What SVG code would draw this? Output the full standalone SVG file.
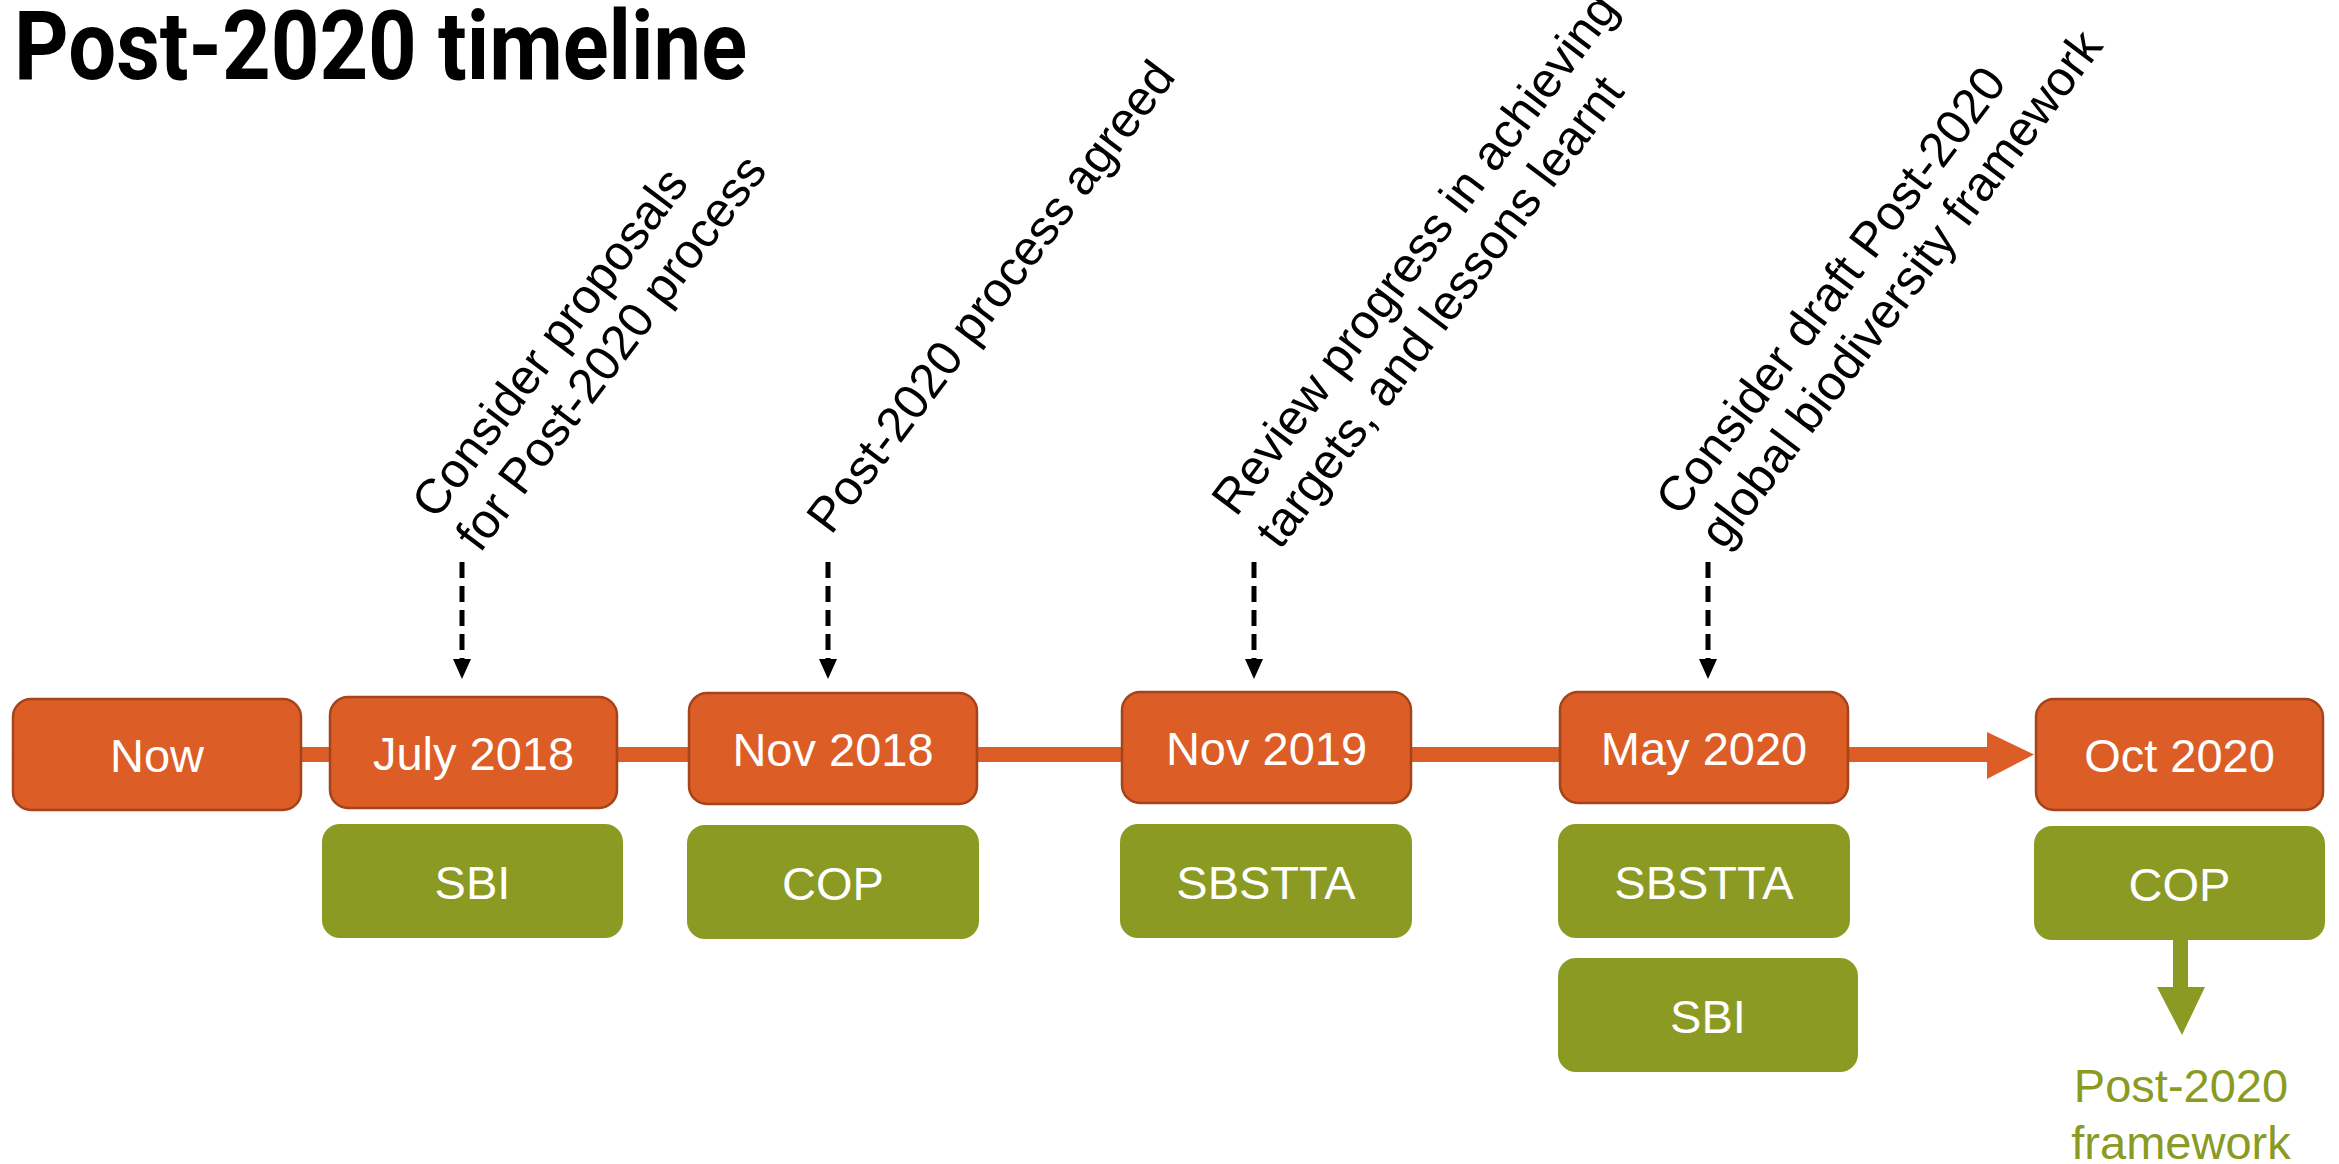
<svg xmlns="http://www.w3.org/2000/svg" width="2339" height="1164" viewBox="0 0 2339 1164">
  <style>
    .ob { fill: #DC5D26; stroke: #A5431B; stroke-width: 2.5; }
    .gb { fill: #8A9A22; }
    .bt { font-family: "Liberation Sans", Arial, sans-serif; font-size: 47px; fill: #FFFFFF; text-anchor: middle; }
    .rt { font-family: "Liberation Sans", Arial, sans-serif; font-size: 49px; fill: #000000; }
    .dash { stroke: #000000; stroke-width: 5; stroke-dasharray: 16 8; fill: none; }
  </style>
  <rect width="2339" height="1164" fill="#FFFFFF"/>
  <text id="title" x="14" y="79" font-family="Roboto, 'Liberation Sans', sans-serif" font-weight="700" font-size="96" textLength="733" lengthAdjust="spacingAndGlyphs" fill="#000000">Post-2020 timeline</text>

  <g id="connectors">
    <rect x="300" y="747" width="1689" height="15" fill="#DC5D26"/>
    <polygon points="1987,732 2034,754.5 1987,779" fill="#DC5D26"/>
    <line class="dash" x1="462" y1="562" x2="462" y2="660"/>
    <polygon points="453,659 471,659 462,679" fill="#000000"/>
    <line class="dash" x1="828" y1="562" x2="828" y2="660"/>
    <polygon points="819,659 837,659 828,679" fill="#000000"/>
    <line class="dash" x1="1254" y1="562" x2="1254" y2="660"/>
    <polygon points="1245,659 1263,659 1254,679" fill="#000000"/>
    <line class="dash" x1="1708" y1="562" x2="1708" y2="660"/>
    <polygon points="1699,659 1717,659 1708,679" fill="#000000"/>
    <polygon points="2173,940 2188,940 2188,987 2205,987 2182,1035 2157,987 2173,987" fill="#8A9A22"/>
  </g>

  <g id="now"><rect class="ob" x="13" y="699" width="288" height="111" rx="18"/><text class="bt" x="157" y="772">Now</text></g>
  <g id="jul2018"><rect class="ob" x="330" y="697" width="287" height="111" rx="18"/><text class="bt" x="473.5" y="770">July 2018</text></g>
  <g id="nov2018"><rect class="ob" x="689" y="693" width="288" height="111" rx="18"/><text class="bt" x="833" y="766">Nov 2018</text></g>
  <g id="nov2019"><rect class="ob" x="1122" y="692" width="289" height="111" rx="18"/><text class="bt" x="1266.5" y="765">Nov 2019</text></g>
  <g id="may2020"><rect class="ob" x="1560" y="692" width="288" height="111" rx="18"/><text class="bt" x="1704" y="765">May 2020</text></g>
  <g id="oct2020"><rect class="ob" x="2036" y="699" width="287" height="111" rx="18"/><text class="bt" x="2179.5" y="772">Oct 2020</text></g>

  <g id="sbi1"><rect class="gb" x="322" y="824" width="301" height="114" rx="18"/><text class="bt" x="472.5" y="899">SBI</text></g>
  <g id="cop1"><rect class="gb" x="687" y="825" width="292" height="114" rx="18"/><text class="bt" x="833" y="900">COP</text></g>
  <g id="sbstta1"><rect class="gb" x="1120" y="824" width="292" height="114" rx="18"/><text class="bt" x="1266" y="899">SBSTTA</text></g>
  <g id="sbstta2"><rect class="gb" x="1558" y="824" width="292" height="114" rx="18"/><text class="bt" x="1704" y="899">SBSTTA</text></g>
  <g id="sbi2"><rect class="gb" x="1558" y="958" width="300" height="114" rx="18"/><text class="bt" x="1708" y="1033">SBI</text></g>
  <g id="cop2"><rect class="gb" x="2034" y="826" width="291" height="114" rx="18"/><text class="bt" x="2179.5" y="901">COP</text></g>

  <g id="outcome"><text font-family="'Liberation Sans', Arial, sans-serif" font-size="47" fill="#8A9A22" text-anchor="middle"><tspan x="2181" y="1102">Post-2020</tspan><tspan x="2181" y="1159">framework</tspan></text></g>

  <g id="label1" transform="translate(436,521) rotate(-53)"><text class="rt"><tspan x="0" y="0">Consider proposals</tspan><tspan x="0" y="55">for Post-2020 process</tspan></text></g>
  <g id="label2" transform="translate(831,536) rotate(-53)"><text class="rt" x="0" y="0">Post-2020 process agreed</text></g>
  <g id="label3" transform="translate(1236,518) rotate(-53)"><text class="rt"><tspan x="0" y="0">Review progress in achieving</tspan><tspan x="0" y="55">targets, and lessons learnt</tspan></text></g>
  <g id="label4" transform="translate(1680,518) rotate(-53)"><text class="rt"><tspan x="0" y="0">Consider draft Post-2020</tspan><tspan x="0" y="55">global biodiversity framework</tspan></text></g>
</svg>
